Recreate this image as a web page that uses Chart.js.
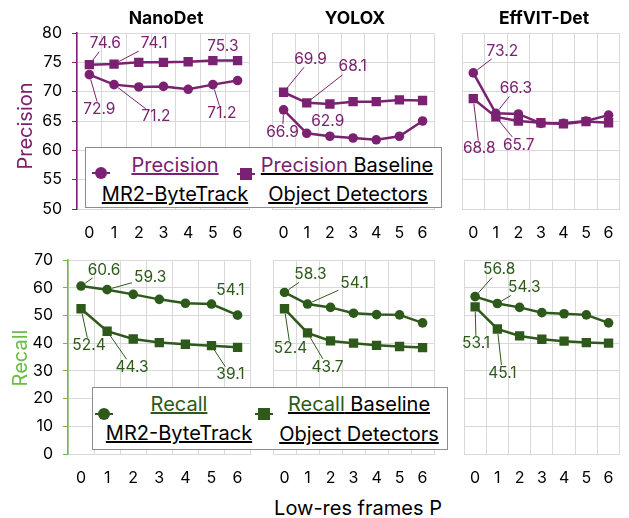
<!DOCTYPE html>
<html lang="en">
<head>
<meta charset="UTF-8">
<title>Precision and Recall vs low-res frames</title>
<script src="https://cdn.jsdelivr.net/npm/chart.js"></script>
<style>
  body { margin: 0; background: #fff; font-family: Inter, "Noto Sans", sans-serif; }
  #page { position: relative; width: 629px; height: 518px; overflow: hidden; }
  #page canvas { position: absolute; }
  .txt { position: absolute; white-space: nowrap; transform: translate(-50%, -50%); }
  .ttl { font-weight: bold; font-size: 17.5px; color: #000; }
  .ylab { font-size: 20px; transform: translate(-50%, -50%) rotate(-90deg); }
  .legend { position: absolute; background: #fff; border: 1px solid #8c8c8c; }
  .lg { font-size: 20px; color: #000; text-decoration: underline; }
  .mk { position: absolute; height: 2px; width: 18px; transform: translate(-50%, -50%); }
  .mk span { position: absolute; left: 3px; top: -5px; width: 12px; height: 12px; }
</style>
</head>
<body>
<div id="page">
  <canvas id="c1" width="258" height="250" style="left:0;top:0"></canvas>
  <canvas id="c2" width="181" height="250" style="left:262px;top:0"></canvas>
  <canvas id="c3" width="177" height="250" style="left:452px;top:0"></canvas>
  <canvas id="c4" width="258" height="250" style="left:0;top:240px"></canvas>
  <canvas id="c5" width="180" height="250" style="left:263px;top:240px"></canvas>
  <canvas id="c6" width="175" height="250" style="left:454px;top:240px"></canvas>

  <div class="txt ttl" style="left:166px;top:17px">NanoDet</div>
  <div class="txt ttl" style="left:355px;top:17px">YOLOX</div>
  <div class="txt ttl" style="left:544px;top:17px">EffVIT-Det</div>
  <div class="txt ylab" style="left:25px;top:126px;color:#7b2171">Precision</div>
  <div class="txt ylab" style="left:20px;top:358px;color:#6cbd45">Recall</div>
  <div class="txt" style="left:358px;top:508px;font-size:20px">Low-res frames P</div>

  <div class="legend" style="left:85px;top:147px;width:355px;height:59px">
    <div class="mk" style="left:15px;top:25px;background:#7b2171"><span style="background:#7b2171;border-radius:50%"></span></div>
    <div class="txt lg" style="left:89px;top:17px;color:#7b2171">Precision</div>
    <div class="txt lg" style="left:89px;top:46px">MR2-ByteTrack</div>
    <div class="mk" style="left:160px;top:26px;background:#7b2171"><span style="background:#7b2171"></span></div>
    <div class="txt lg" style="left:261px;top:17px"><span style="color:#7b2171">Precision</span> Baseline</div>
    <div class="txt lg" style="left:262px;top:46px">Object Detectors</div>
  </div>
  <div class="legend" style="left:92px;top:387px;width:354px;height:61px">
    <div class="mk" style="left:11px;top:26px;background:#2d5a1b"><span style="background:#2d5a1b;border-radius:50%"></span></div>
    <div class="txt lg" style="left:86px;top:16px;color:#2d5a1b">Recall</div>
    <div class="txt lg" style="left:86px;top:45px">MR2-ByteTrack</div>
    <div class="mk" style="left:171px;top:26px;background:#2d5a1b"><span style="background:#2d5a1b"></span></div>
    <div class="txt lg" style="left:266px;top:16px"><span style="color:#2d5a1b">Recall</span> Baseline</div>
    <div class="txt lg" style="left:266px;top:46px">Object Detectors</div>
  </div>
</div>

<script>
// ---- data ----
const frames = ['0', '1', '2', '3', '4', '5', '6'];

const precTicks = [50, 80, 5];
const recallTicks = [0, 70, 10];

const nanoPrecMR2  = [72.9, 71.2, 70.8, 70.9, 70.4, 71.2, 71.9];
const nanoPrecBase = [74.6, 74.7, 75.0, 75.0, 75.1, 75.3, 75.3];
const yoloPrecMR2  = [66.9, 62.9, 62.4, 62.1, 61.8, 62.4, 65.0];
const yoloPrecBase = [69.9, 68.1, 67.9, 68.3, 68.3, 68.6, 68.5];
const effPrecMR2   = [73.2, 66.3, 66.2, 64.6, 64.6, 65.0, 66.0];
const effPrecBase  = [68.8, 65.7, 65.0, 64.7, 64.5, 64.9, 64.7];

const nanoRecMR2  = [60.6, 59.3, 57.6, 55.8, 54.4, 54.1, 50.1];
const nanoRecBase = [52.4, 44.3, 41.5, 40.2, 39.6, 39.1, 38.5];
const yoloRecMR2  = [58.3, 54.1, 52.9, 50.8, 50.3, 50.2, 47.3];
const yoloRecBase = [52.4, 43.7, 40.8, 40.0, 39.2, 38.8, 38.4];
const effRecMR2   = [56.8, 54.3, 52.9, 51.0, 50.6, 50.2, 47.3];
const effRecBase  = [53.1, 45.1, 42.6, 41.4, 40.7, 40.2, 40.0];

// value labels shown on the chart
const nanoPrecMR2Tags  = ['72.9', '71.2', null, null, null, '71.2', null];
const nanoPrecBaseTags = ['74.6', '74.1', null, null, null, '75.3', null];
const yoloPrecMR2Tags  = ['66.9', '62.9', null, null, null, null, null];
const yoloPrecBaseTags = ['69.9', '68.1', null, null, null, null, null];
const effPrecMR2Tags   = ['73.2', '66.3', null, null, null, null, null];
const effPrecBaseTags  = ['68.8', '65.7', null, null, null, null, null];
const nanoRecMR2Tags   = ['60.6', '59.3', null, null, null, '54.1', null];
const nanoRecBaseTags  = ['52.4', '44.3', null, null, null, '39.1', null];
const yoloRecMR2Tags   = ['58.3', '54.1', null, null, null, null, null];
const yoloRecBaseTags  = ['52.4', '43.7', null, null, null, null, null];
const effRecMR2Tags    = ['56.8', '54.3', null, null, null, null, null];
const effRecBaseTags   = ['53.1', '45.1', null, null, null, null, null];

// ---- styling ----
const FONT = 'Inter, "Noto Sans", sans-serif';
const PURPLE = '#7b2171';
const GREEN = '#2d5a1b';
const LIGHT_GREEN = '#6cbd45';
const GRID = '#d9d9d9';

// label offsets from the point: [dataset, index, dx, dy]
const labelPos = {
  c1: [[0, 0, 10, 35], [0, 1, 42, 32], [0, 5, 9, 29], [1, 0, 16, -21], [1, 1, 40, -21], [1, 5, 10, -14]],
  c2: [[0, 0, -1, 22], [0, 1, 21, -12], [1, 0, 27, -33], [1, 1, 46, -36]],
  c3: [[0, 0, 29, -22], [0, 1, 20, -25], [1, 0, 6, 50], [1, 1, 23, 28]],
  c4: [[0, 0, 23, -16], [0, 1, 43, -12], [0, 5, 19, -14], [1, 0, 8, 37], [1, 1, 25, 36], [1, 5, 19, 29]],
  c5: [[0, 0, 26, -18], [0, 1, 47, -21], [1, 0, 6, 40], [1, 1, 20, 34]],
  c6: [[0, 0, 24, -27], [0, 1, 27, -16], [1, 0, 1, 37], [1, 1, 5, 44]]
};

// draws value labels with thin leader lines back to the point
const leaderLabels = {
  id: 'leaderLabels',
  afterDatasetsDraw(chart) {
    const ctx = chart.ctx;
    const list = labelPos[chart.canvas.id] || [];
    ctx.save();
    ctx.font = '15.5px ' + FONT;
    ctx.textAlign = 'center';
    ctx.textBaseline = 'middle';
    list.forEach(([d, i, dx, dy]) => {
      const ds = chart.data.datasets[d];
      const text = ds.tags[i];
      if (!text) return;
      const p = chart.getDatasetMeta(d).data[i];
      const cx = p.x + dx, cy = p.y + dy;
      const w = ctx.measureText(text).width / 2 + 2, h = 8;
      const s = Math.min(Math.abs(dx) > 0 ? w / Math.abs(dx) : 1e9, Math.abs(dy) > 0 ? h / Math.abs(dy) : 1e9);
      const ex = cx - dx * s, ey = cy - dy * s;
      const len = Math.hypot(dx, dy);
      const sx = p.x + dx / len * 5, sy = p.y + dy / len * 5;
      if (Math.hypot(ex - sx, ey - sy) > 6) {
        ctx.strokeStyle = ds.borderColor;
        ctx.lineWidth = 1;
        ctx.beginPath();
        ctx.moveTo(sx, sy);
        ctx.lineTo(ex, ey);
        ctx.stroke();
      }
      ctx.fillStyle = ds.borderColor;
      ctx.fillText(text, cx, cy);
    });
    ctx.restore();
  }
};

function series(data, tags, color, shape) {
  return {
    data: data,
    tags: tags,
    borderColor: color,
    backgroundColor: color,
    borderWidth: 2.5,
    pointStyle: shape,
    pointRadius: shape === 'rect' ? 6.6 : 4.8,
    pointBorderWidth: 0
  };
}

function panel(id, sets, yRange, yWidth, axisColor, padTop, padRight, xHeight) {
  const showY = yWidth > 20;
  new Chart(document.getElementById(id), {
    type: 'line',
    data: { labels: frames, datasets: sets },
    options: {
      responsive: false,
      animation: false,
      layout: { padding: { top: padTop, right: padRight, left: 0, bottom: 0 } },
      plugins: { legend: { display: false }, tooltip: { enabled: false } },
      scales: {
        x: {
          offset: true,
          grid: { offset: true, color: GRID, drawTicks: false },
          border: { color: GRID },
          ticks: { color: '#000', font: { size: 16, family: FONT }, padding: 15, maxRotation: 0 },
          afterFit(s) { s.height = xHeight; }
        },
        y: {
          min: yRange[0],
          max: yRange[1],
          grid: { color: GRID, drawTicks: showY, tickLength: 5, tickColor: axisColor },
          border: { color: showY ? axisColor : GRID, width: showY ? 1.5 : 1 },
          ticks: { stepSize: yRange[2], display: showY, color: '#000', font: { size: 16, family: FONT }, padding: 10 },
          afterFit(s) { s.width = yWidth; }
        }
      }
    },
    plugins: [leaderLabels]
  });
}

panel('c1', [series(nanoPrecMR2, nanoPrecMR2Tags, PURPLE, 'circle'), series(nanoPrecBase, nanoPrecBaseTags, PURPLE, 'rect')], precTicks, 77, PURPLE, 33, 3, 41);
panel('c2', [series(yoloPrecMR2, yoloPrecMR2Tags, PURPLE, 'circle'), series(yoloPrecBase, yoloPrecBaseTags, PURPLE, 'rect')], precTicks, 10, GRID, 33, 3, 41);
panel('c3', [series(effPrecMR2, effPrecMR2Tags, PURPLE, 'circle'), series(effPrecBase, effPrecBaseTags, PURPLE, 'rect')], precTicks, 10, GRID, 33, 1, 41);
panel('c4', [series(nanoRecMR2, nanoRecMR2Tags, GREEN, 'circle'), series(nanoRecBase, nanoRecBaseTags, GREEN, 'rect')], recallTicks, 68, LIGHT_GREEN, 20, 2, 36);
panel('c5', [series(yoloRecMR2, yoloRecMR2Tags, GREEN, 'circle'), series(yoloRecBase, yoloRecBaseTags, GREEN, 'rect')], recallTicks, 10, GRID, 20, 3, 36);
panel('c6', [series(effRecMR2, effRecMR2Tags, GREEN, 'circle'), series(effRecBase, effRecBaseTags, GREEN, 'rect')], recallTicks, 10, GRID, 20, 1, 36);
</script>
</body>
</html>
